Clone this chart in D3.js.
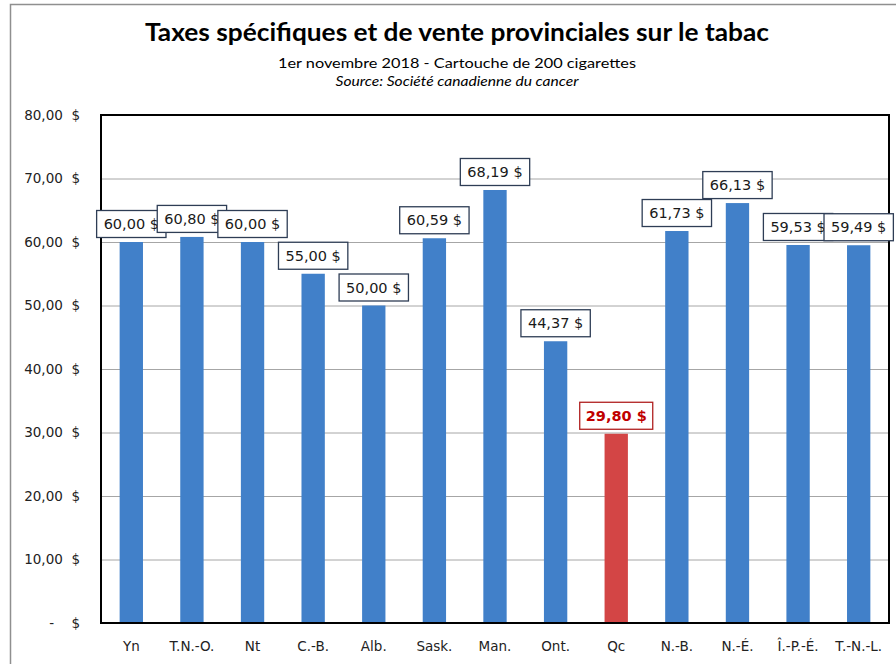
<!DOCTYPE html>
<html>
<head>
<meta charset="utf-8">
<script src="https://cdn.jsdelivr.net/npm/d3@7"></script>
<style>
  body { margin: 0; background: #fff; }
  svg { display: block; }
</style>
</head>
<body>
<div id="chart"></div>
<script>
// data
const provinces = ["Yn", "T.N.-O.", "Nt", "C.-B.", "Alb.", "Sask.", "Man.", "Ont.", "Qc", "N.-B.", "N.-É.", "Î.-P.-É.", "T.-N.-L."];
const taxes = [60.00, 60.80, 60.00, 55.00, 50.00, 60.59, 68.19, 44.37, 29.80, 61.73, 66.13, 59.53, 59.49];
const highlighted = ["Qc"];
const yTicks = [0, 10, 20, 30, 40, 50, 60, 70, 80];

const W = 896, H = 664;
const plot = { left: 101, right: 889, top: 115, bottom: 623 };

const svg = d3.select("#chart").append("svg")
    .attr("width", W)
    .attr("height", H);

// outer chart frame (only top and left visible)
svg.append("path")
    .attr("d", `M10.5,${H} V4.5 H${W}`)
    .attr("fill", "none")
    .attr("stroke", "#8f8f8f")
    .attr("stroke-width", 1.5);

// titles
const cx = 457;
svg.append("text")
    .attr("x", cx).attr("y", 41)
    .attr("text-anchor", "middle")
    .attr("textLength", 624)
    .attr("lengthAdjust", "spacingAndGlyphs")
    .style("font-family", "Lato, 'Open Sans', sans-serif")
    .style("font-weight", "bold")
    .style("font-size", "25px")
    .attr("fill", "#000")
    .text("Taxes spécifiques et de vente provinciales sur le tabac");
svg.append("text")
    .attr("x", cx).attr("y", 68)
    .attr("text-anchor", "middle")
    .attr("textLength", 358)
    .attr("lengthAdjust", "spacingAndGlyphs")
    .style("font-family", "Lato, 'Open Sans', sans-serif")
    .style("font-size", "14px")
    .attr("fill", "#000")
    .text("1er novembre  2018 - Cartouche de 200 cigarettes");
svg.append("text")
    .attr("x", cx).attr("y", 86)
    .attr("text-anchor", "middle")
    .attr("textLength", 243)
    .attr("lengthAdjust", "spacingAndGlyphs")
    .style("font-family", "Lato, 'Open Sans', sans-serif")
    .style("font-style", "italic")
    .style("font-size", "13.5px")
    .attr("fill", "#000")
    .text("Source: Société canadienne du cancer");

// scales
const x = d3.scaleBand()
    .domain(provinces)
    .range([plot.left, plot.right])
    .paddingInner(0.615)
    .paddingOuter(0.3075);

const y = d3.scaleLinear()
    .domain([0, 80])
    .range([plot.bottom, plot.top]);

const money = v => d3.format(".2f")(v).replace(".", ",") + " $";

// gridlines
svg.append("g")
    .selectAll("line")
    .data(yTicks.filter(d => d > 0 && d < 80))
    .enter()
    .append("line")
    .attr("x1", plot.left).attr("x2", plot.right)
    .attr("y1", d => y(d) + 0.5).attr("y2", d => y(d) + 0.5)
    .attr("stroke", "#a6a6a6")
    .attr("stroke-width", 1);

// Y axis labels
const yAxis = svg.append("g")
    .attr("transform", `translate(${plot.left},0)`)
    .call(d3.axisLeft(y)
        .tickValues(yTicks)
        .tickSize(0)
        .tickPadding(21)
        .tickFormat(d => d === 0 ? "-\u00a0\u00a0\u00a0\u00a0$" : money(d).replace(" $", "\u00a0\u00a0$")));
yAxis.select(".domain").remove();
yAxis.selectAll("text")
    .style("font-family", "'DejaVu Sans', Verdana, sans-serif")
    .style("font-size", "13.5px")
    .attr("fill", "#222");

// bars
svg.append("g")
    .selectAll("rect")
    .data(provinces)
    .enter()
    .append("rect")
    .attr("x", d => x(d))
    .attr("width", x.bandwidth())
    .attr("y", (d, i) => y(taxes[i]))
    .attr("height", (d, i) => y(0) - y(taxes[i]))
    .attr("fill", d => highlighted.includes(d) ? "#d34545" : "#4180c9");

// plot area border
svg.append("rect")
    .attr("x", plot.left).attr("y", plot.top)
    .attr("width", plot.right - plot.left)
    .attr("height", plot.bottom - plot.top)
    .attr("fill", "none")
    .attr("stroke", "#000")
    .attr("stroke-width", 2);

// X axis labels
const xAxis = svg.append("g")
    .attr("transform", `translate(0,${plot.bottom})`)
    .call(d3.axisBottom(x).tickSize(0).tickPadding(18));
xAxis.select(".domain").remove();
xAxis.selectAll("text")
    .style("font-family", "'DejaVu Sans', Verdana, sans-serif")
    .style("font-size", "13.5px")
    .attr("fill", "#222");

// value labels in boxes, drawn in order so later ones overlap earlier ones
const labels = svg.append("g")
    .selectAll("g")
    .data(provinces)
    .enter()
    .append("g");

labels.each(function (d, i) {
    const g = d3.select(this);
    const hi = highlighted.includes(d);
    const cxBar = x(d) + x.bandwidth() / 2;
    const t = g.append("text")
        .attr("x", cxBar)
        .attr("y", y(taxes[i]) - 13)
        .attr("text-anchor", "middle")
        .style("font-family", "'DejaVu Sans', Verdana, sans-serif")
        .style("font-size", "14.5px")
        .style("font-weight", hi ? "bold" : "normal")
        .attr("fill", hi ? "#c00000" : "#1a1a1a")
        .text(money(taxes[i]).replace(" $", "\u00a0$"));
    const bb = t.node().getBBox();
    const bw = hi ? bb.width + 12 : bb.width + 14, bh = 27;
    g.insert("rect", "text")
        .attr("x", cxBar - bw / 2)
        .attr("y", y(taxes[i]) - 4.5 - bh)
        .attr("width", bw)
        .attr("height", bh)
        .attr("fill", "#fff")
        .attr("stroke", hi ? "#b02020" : "#2e3d55")
        .attr("stroke-width", 1.3);
});
</script>
</body>
</html>
